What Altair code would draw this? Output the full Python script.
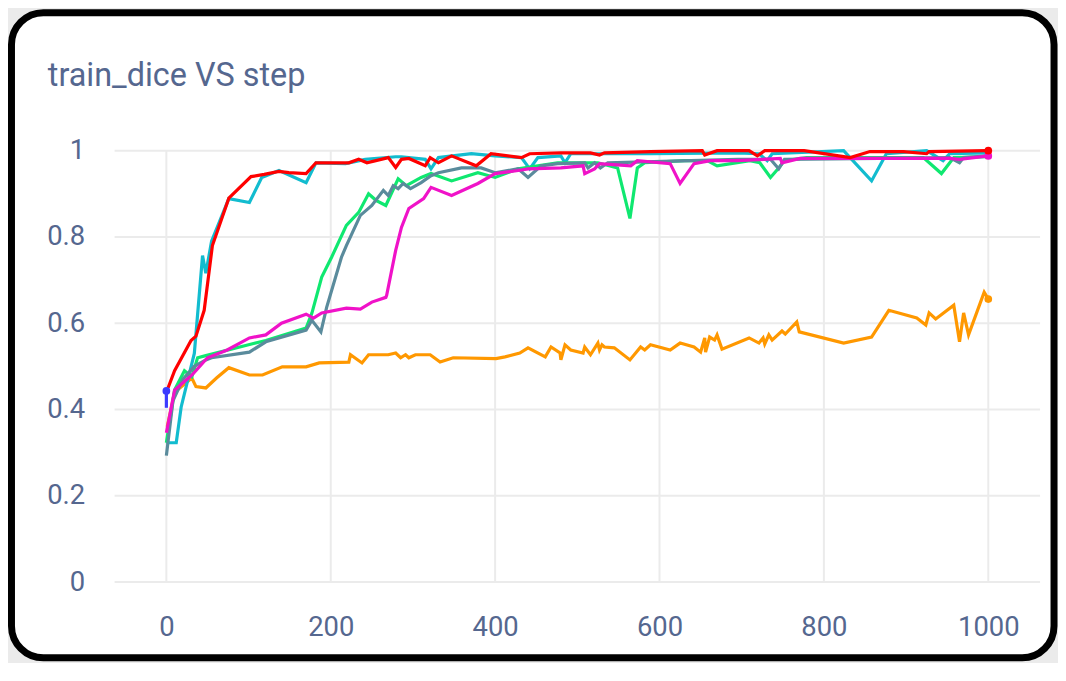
import altair as alt
import pandas as pd

title_text = "train_dice VS step"
x_ticks = [0, 200, 400, 600, 800, 1000]
y_ticks = [0, 0.2, 0.4, 0.6, 0.8, 1]

blue_steps = [0, 0]
blue_vals = [0.404, 0.443]

orange_steps = [1, 10, 31, 36, 48, 61, 76, 101, 117, 141, 170, 186, 222, 224, 238, 246, 270, 279, 285, 291,
                295, 303, 321, 333, 349, 401, 412, 430, 440, 461, 468, 479, 480, 485, 492, 507, 509, 516, 525, 527,
                530, 533, 545, 564, 577, 582, 589, 613, 625, 642, 650, 655, 656, 661, 667, 670, 676, 709, 721, 726,
                728, 733, 737, 749, 753, 767, 770, 824, 858, 879, 913, 924, 928, 936, 958, 965, 970, 976, 995, 1000]
orange_vals = [0.36, 0.44, 0.473, 0.453, 0.45, 0.473, 0.497, 0.48, 0.48, 0.499, 0.499, 0.508, 0.51, 0.527, 0.508, 0.527, 0.527, 0.531, 0.52, 0.527,
               0.52, 0.527, 0.527, 0.51, 0.52, 0.518, 0.522, 0.531, 0.543, 0.522, 0.545, 0.531, 0.515, 0.55, 0.538, 0.531, 0.545, 0.527, 0.554, 0.538,
               0.55, 0.545, 0.543, 0.515, 0.545, 0.538, 0.55, 0.538, 0.554, 0.545, 0.533, 0.566, 0.533, 0.568, 0.561, 0.573, 0.54, 0.566, 0.554, 0.566,
               0.552, 0.573, 0.561, 0.582, 0.575, 0.603, 0.58, 0.554, 0.568, 0.63, 0.612, 0.596, 0.624, 0.61, 0.642, 0.557, 0.624, 0.573, 0.672, 0.656]

cyan_steps = [0, 12, 18, 34, 44, 48, 55, 76, 101, 116, 137, 170, 182, 218, 242, 279, 286, 315, 322, 331,
              371, 400, 432, 442, 452, 480, 485, 492, 589, 695, 721, 731, 737, 824, 858, 876, 925, 945, 953, 1000]
cyan_vals = [0.323, 0.323, 0.406, 0.53, 0.757, 0.716, 0.79, 0.889, 0.88, 0.938, 0.954, 0.926, 0.972, 0.97, 0.98, 0.986, 0.986, 0.98, 0.958, 0.984,
             0.993, 0.988, 0.984, 0.958, 0.984, 0.988, 0.972, 0.993, 0.993, 0.995, 0.993, 0.977, 0.993, 1.0, 0.93, 0.993, 1.0, 0.977, 0.993, 0.995]

green_steps = [0, 10, 22, 31, 38, 48, 100, 121, 170, 177, 189, 201, 219, 234, 246, 255, 267, 282, 292, 310,
               322, 347, 379, 400, 428, 476, 497, 525, 549, 564, 573, 582, 630, 658, 670, 710, 722, 735, 745, 752,
               779, 824, 921, 943, 958, 1000]
green_vals = [0.323, 0.445, 0.49, 0.476, 0.52, 0.525, 0.55, 0.56, 0.589, 0.623, 0.707, 0.753, 0.827, 0.857, 0.90, 0.885, 0.873, 0.935, 0.919, 0.938,
              0.947, 0.93, 0.949, 0.938, 0.958, 0.972, 0.972, 0.972, 0.96, 0.843, 0.96, 0.972, 0.977, 0.977, 0.965, 0.977, 0.972, 0.938, 0.96, 0.977,
              0.984, 0.984, 0.984, 0.947, 0.984, 0.986]

slate_steps = [0, 8, 20, 34, 48, 55, 101, 121, 170, 177, 188, 195, 213, 219, 236, 250, 264, 270, 276, 282,
               288, 297, 310, 322, 331, 359, 383, 400, 428, 440, 456, 476, 509, 513, 521, 528, 537, 695, 735, 745,
               752, 953, 965, 970, 1000]
slate_vals = [0.293, 0.42, 0.47, 0.50, 0.515, 0.52, 0.533, 0.557, 0.584, 0.607, 0.58, 0.637, 0.753, 0.78, 0.85, 0.873, 0.908, 0.896, 0.919, 0.912,
              0.924, 0.912, 0.926, 0.942, 0.949, 0.96, 0.96, 0.949, 0.958, 0.938, 0.965, 0.97, 0.972, 0.96, 0.972, 0.96, 0.972, 0.98, 0.98, 0.958,
              0.98, 0.984, 0.972, 0.984, 0.988]

magenta_steps = [0, 10, 31, 50, 74, 101, 121, 140, 170, 179, 189, 219, 236, 250, 267, 268, 279, 286, 295, 313,
                 322, 347, 379, 400, 428, 440, 480, 507, 509, 521, 527, 565, 573, 613, 625, 642, 662, 695, 747, 749,
                 771, 875, 953, 965, 1000]
magenta_vals = [0.346, 0.445, 0.48, 0.52, 0.538, 0.566, 0.573, 0.60, 0.621, 0.612, 0.624, 0.635, 0.633, 0.649, 0.66, 0.665, 0.769, 0.822, 0.866, 0.889,
                0.915, 0.896, 0.924, 0.947, 0.954, 0.958, 0.96, 0.965, 0.947, 0.958, 0.97, 0.965, 0.977, 0.97, 0.924, 0.97, 0.977, 0.977, 0.982, 0.972,
                0.982, 0.982, 0.982, 0.98, 0.988]

red_steps = [2, 10, 30, 36, 46, 52, 56, 76, 103, 119, 137, 149, 170, 182, 222, 234, 244, 270, 279, 286,
             295, 315, 321, 331, 347, 377, 395, 432, 442, 480, 516, 527, 533, 589, 652, 655, 670, 709, 719, 728,
             776, 832, 856, 897, 925, 928, 998, 1000]
red_vals = [0.45, 0.49, 0.56, 0.57, 0.63, 0.72, 0.78, 0.89, 0.94, 0.945, 0.952, 0.949, 0.947, 0.972, 0.972, 0.98, 0.972, 0.984, 0.961, 0.98,
            0.982, 0.965, 0.984, 0.972, 0.988, 0.965, 0.993, 0.984, 0.993, 0.995, 0.995, 0.99, 0.995, 0.998, 1.0, 0.99, 1.0, 1.0, 0.988, 1.0,
            1.0, 0.984, 0.998, 0.998, 0.993, 0.998, 1.0, 1.0]

# draw order (bottom -> top), colour, whether the last point is marked
series = [
    ("s1_blue", blue_steps, blue_vals, "#3b3bff", True),
    ("s2_orange", orange_steps, orange_vals, "#ff9800", True),
    ("s3_cyan", cyan_steps, cyan_vals, "#12bccf", False),
    ("s4_green", green_steps, green_vals, "#0fe870", False),
    ("s5_slate", slate_steps, slate_vals, "#5a8b9c", False),
    ("s6_magenta", magenta_steps, magenta_vals, "#f012c8", True),
    ("s7_red", red_steps, red_vals, "#ff0000", True),
]

rows, last_rows = [], []
for name, st, vs, _, mark_last in series:
    for i, (s, v) in enumerate(zip(st, vs)):
        rows.append({"series": name, "step": s, "value": v, "i": i})
    if mark_last:
        last_rows.append({"series": name, "step": st[-1], "value": vs[-1]})
df = pd.DataFrame(rows)
df_last = pd.DataFrame(last_rows)

names = [s[0] for s in series]
colors = [s[3] for s in series]

W, H = 929, 433
PAD = {"left": 107, "top": 142, "right": 18, "bottom": 80}
text_color = "#55678f"
font = "Roboto"

xscale = alt.Scale(domain=[-63, 1063], nice=False, zero=False)
yscale = alt.Scale(domain=[0, 1], nice=False)
cscale = alt.Scale(domain=names, range=colors)

x_axis = alt.Axis(values=x_ticks, format="d", grid=False, domain=False, ticks=False, tickSize=0, title=None,
                  labelFont=font, labelFontSize=27.5, labelColor=text_color, labelPadding=32, zindex=1)
y_axis = alt.Axis(values=y_ticks, format="~g", grid=False, domain=False, ticks=False, tickSize=0, title=None,
                  labelFont=font, labelFontSize=27.5, labelColor=text_color, labelPadding=30, zindex=1)

frame = alt.Chart(pd.DataFrame({"k": [0]})).mark_rect(
    fill="white", stroke="black", strokeWidth=7, cornerRadius=32
).encode(
    x=alt.value(-PAD["left"] + 3.5), x2=alt.value(W + PAD["right"] - 4),
    y=alt.value(-PAD["top"] + 3.5), y2=alt.value(H + PAD["bottom"] - 4),
)

title = alt.Chart(pd.DataFrame({"t": [title_text]})).mark_text(
    align="left", baseline="alphabetic", font=font, fontSize=32.5, color=text_color
).encode(x=alt.value(-67), y=alt.value(-65), text="t:N")

vgrid = alt.Chart(pd.DataFrame({"step": x_ticks})).mark_rule(color="#ebebeb", strokeWidth=2).encode(
    x=alt.X("step:Q", scale=xscale, axis=x_axis)
)
hgrid = alt.Chart(pd.DataFrame({"value": y_ticks})).mark_rule(color="#ebebeb", strokeWidth=2).encode(
    y=alt.Y("value:Q", scale=yscale, axis=y_axis)
)

lines = alt.Chart(df).mark_line(strokeWidth=3.2).encode(
    x=alt.X("step:Q", scale=xscale, axis=x_axis),
    y=alt.Y("value:Q", scale=yscale, axis=y_axis),
    color=alt.Color("series:N", scale=cscale, legend=None),
    order=alt.Order("i:Q"),
)

dots = alt.Chart(df_last).mark_point(filled=True, size=60, opacity=1).encode(
    x=alt.X("step:Q", scale=xscale, axis=x_axis),
    y=alt.Y("value:Q", scale=yscale, axis=y_axis),
    color=alt.Color("series:N", scale=cscale, legend=None),
)

chart = alt.layer(frame, title, vgrid, hgrid, lines, dots).properties(
    width=W, height=H, padding=PAD, autosize=alt.AutoSizeParams(type="none"), background="#ebebeb"
).configure_view(stroke=None)

chart.save("out.html", embed_options={"renderer": "svg", "actions": False})
